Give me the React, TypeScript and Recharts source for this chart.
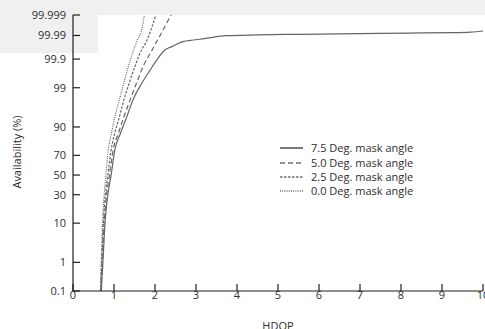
import React from "react";
import { LineChart, Line, XAxis, YAxis } from "recharts";

const xTicks = [0, 1, 2, 3, 4, 5, 6, 7, 8, 9, 10];
const yTickLabels = [0.1, 1, 10, 30, 50, 70, 90, 99, 99.9, 99.99, 99.999];

// HDOP vs availability (%)
const hdop75 = [0.69, 0.73, 0.78, 0.85, 0.93, 1.02, 1.16, 1.31, 1.46, 1.68, 1.88, 2.04, 2.24, 2.41, 2.68, 2.93, 3.2, 3.73, 4.5, 5.5, 6.5, 7.5, 8.5, 9.3, 9.7, 10];
const avail75 = [0.1, 1, 10, 30, 50, 74.8, 86.9, 93.9, 97.7, 99.29, 99.74, 99.89, 99.957, 99.969, 99.981, 99.984, 99.986, 99.9898, 99.9906, 99.9912, 99.9916, 99.992, 99.9924, 99.9926, 99.993, 99.9938];

const hdop50 = [0.68, 0.71, 0.76, 0.82, 0.89, 0.98, 1.11, 1.24, 1.39, 1.55, 1.71, 1.93, 2.02, 2.2, 2.39];
const avail50 = [0.1, 1, 10, 30, 50, 74.8, 86.9, 93.9, 97.7, 99.29, 99.81, 99.957, 99.978, 99.9946, 99.999];

const hdop25 = [0.67, 0.7, 0.74, 0.79, 0.85, 0.93, 1.02, 1.13, 1.24, 1.37, 1.51, 1.67, 1.77, 2.02];
const avail25 = [0.1, 1, 10, 30, 50, 74.8, 86.9, 93.9, 97.7, 99.29, 99.81, 99.957, 99.978, 99.999];

const hdop00 = [0.67, 0.69, 0.72, 0.76, 0.8, 0.86, 0.94, 1.02, 1.13, 1.24, 1.35, 1.48, 1.57, 1.69, 1.74];
const avail00 = [0.1, 1, 10, 30, 50, 74.8, 86.9, 93.9, 97.7, 99.29, 99.81, 99.957, 99.984, 99.996, 99.999];

const seriesNames = [
  "7.5 Deg. mask angle",
  "5.0 Deg. mask angle",
  "2.5 Deg. mask angle",
  "0.0 Deg. mask angle",
];

// inverse of the normal CDF (Acklam), for the probability axis
function probit(p: number): number {
  const a = [-39.69683028665376, 220.9460984245205, -275.9285104469687, 138.357751867269, -30.66479806614716, 2.506628277459239];
  const b = [-54.47609879822406, 161.5858368580409, -155.6989798598866, 66.80131188771972, -13.28068155288572];
  const c = [-0.007784894002430293, -0.3223964580411365, -2.400758277161838, -2.549732539343734, 4.374664141464968, 2.938163982698783];
  const d = [0.007784695709041462, 0.3224671290700398, 2.445134137142996, 3.754408661907416];
  const pl = 0.02425;
  if (p < pl) {
    const q = Math.sqrt(-2 * Math.log(p));
    return (((((c[0] * q + c[1]) * q + c[2]) * q + c[3]) * q + c[4]) * q + c[5]) / ((((d[0] * q + d[1]) * q + d[2]) * q + d[3]) * q + 1);
  }
  if (p <= 1 - pl) {
    const q = p - 0.5;
    const r = q * q;
    return ((((((a[0] * r + a[1]) * r + a[2]) * r + a[3]) * r + a[4]) * r + a[5]) * q) / (((((b[0] * r + b[1]) * r + b[2]) * r + b[3]) * r + b[4]) * r + 1);
  }
  const q = Math.sqrt(-2 * Math.log(1 - p));
  return -(((((c[0] * q + c[1]) * q + c[2]) * q + c[3]) * q + c[4]) * q + c[5]) / ((((d[0] * q + d[1]) * q + d[2]) * q + d[3]) * q + 1);
}

const toZ = (pct: number) => probit(pct / 100);

const build = (hs: number[], av: number[]) => hs.map((h, i) => ({ hdop: h, z: toZ(av[i]) }));

const data75 = build(hdop75, avail75);
const data50 = build(hdop50, avail50);
const data25 = build(hdop25, avail25);
const data00 = build(hdop00, avail00);

const yTicks = yTickLabels.map(toZ);
const yDomain = [yTicks[0], yTicks[yTicks.length - 1]];

const FONT = "'Open Sans', sans-serif";
const TXT = "#2e2e2e";
const AX = "#1e1e1e";
const LINE = "#666";

const BottomTick = ({ x, y, payload }: any) => (
  <g>
    <line x1={x} x2={x} y1={y} y2={y - 7} stroke={AX} strokeWidth={1.2} />
    <text x={x} y={y + 8} textAnchor="middle" fill={TXT} fontSize={11} fontFamily={FONT}>
      {payload.value}
    </text>
  </g>
);

const TopTick = ({ x, y }: any) => (
  <line x1={x} x2={x} y1={y} y2={y + 7} stroke={AX} strokeWidth={1.2} />
);

const LeftTick = ({ x, y, index }: any) => (
  <g>
    <line x1={x} x2={x + 7} y1={y} y2={y} stroke={AX} strokeWidth={1.2} />
    <text x={x - 7} y={y + 3.8} textAnchor="end" fill={TXT} fontSize={11} fontFamily={FONT}>
      {yTickLabels[index]}
    </text>
  </g>
);

const RightTick = ({ x, y }: any) => (
  <line x1={x} x2={x - 7} y1={y} y2={y} stroke={AX} strokeWidth={1.2} />
);

const dashes = [undefined, "5 3", "2.5 1.5", "1 1.2"];

export default function App() {
  return (
    <div style={{ position: "absolute", left: 0, top: 0, width: 485, height: 329, background: "#fff", overflow: "hidden" }}>
      <div style={{ position: "absolute", left: 0, top: 0, width: 485, height: 15, background: "#f0f0f0" }} />
      <div style={{ position: "absolute", left: 0, top: 0, width: 98, height: 53, background: "#f0f0f0" }} />
      <div style={{ position: "absolute", left: 0, top: 0 }}>
        <LineChart width={485} height={329} margin={{ top: 15, right: 2, left: 0, bottom: 0 }}>
          <XAxis
            type="number"
            dataKey="hdop"
            domain={[0, 10]}
            ticks={xTicks}
            interval={0}
            allowDataOverflow
            height={38}
            tickSize={0}
            tickMargin={0}
            tickLine={false}
            tick={<BottomTick />}
            axisLine={{ stroke: AX, strokeWidth: 1.2 }}
          />
          <XAxis
            xAxisId="top"
            orientation="top"
            type="number"
            domain={[0, 10]}
            ticks={xTicks}
            interval={0}
            allowDataOverflow
            height={0}
            tickSize={0}
            tickMargin={0}
            tickLine={false}
            tick={<TopTick />}
            axisLine={{ stroke: AX, strokeWidth: 1.2 }}
          />
          <YAxis
            type="number"
            dataKey="z"
            domain={yDomain}
            ticks={yTicks}
            interval={0}
            allowDataOverflow
            width={73}
            tickSize={0}
            tickMargin={0}
            tickLine={false}
            tick={<LeftTick />}
            axisLine={{ stroke: AX, strokeWidth: 1.2 }}
          />
          <YAxis
            yAxisId="right"
            orientation="right"
            type="number"
            domain={yDomain}
            ticks={yTicks}
            interval={0}
            allowDataOverflow
            width={0}
            tickSize={0}
            tickMargin={0}
            tickLine={false}
            tick={<RightTick />}
            axisLine={{ stroke: AX, strokeWidth: 1.2 }}
          />
          {[data75, data50, data25, data00].map((d, i) => (
            <Line
              key={seriesNames[i]}
              data={d}
              dataKey="z"
              type="monotone"
              stroke={LINE}
              strokeWidth={1.2}
              strokeDasharray={dashes[i]}
              dot={false}
              activeDot={false}
              isAnimationActive={false}
            />
          ))}
        </LineChart>
      </div>
      <svg width={485} height={329} style={{ position: "absolute", left: 0, top: 0, pointerEvents: "none" }}>
        <text transform="translate(21,152) rotate(-90)" textAnchor="middle" fill={TXT} fontSize={11} fontFamily={FONT}>
          Availability (%)
        </text>
        <text x={278} y={330} textAnchor="middle" fill={TXT} fontSize={11} fontFamily={FONT}>
          HDOP
        </text>
        {seriesNames.map((name, i) => {
          const cy = [148, 163, 177, 191][i];
          return (
            <g key={name}>
              <line x1={280} x2={303} y1={cy} y2={cy} stroke="#222" strokeWidth={1.2} strokeDasharray={dashes[i]} />
              <text x={311} y={cy + 3.9} fill={TXT} fontSize={11} fontFamily={FONT}>
                {name}
              </text>
            </g>
          );
        })}
      </svg>
    </div>
  );
}
